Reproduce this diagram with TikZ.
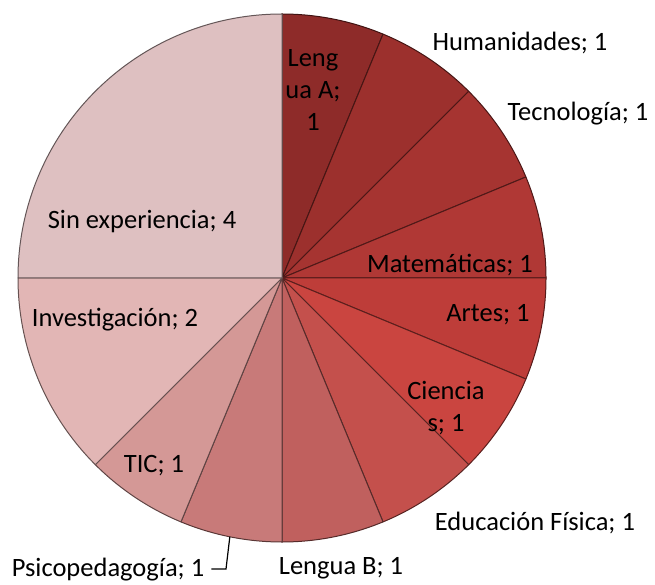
\documentclass[tikz,border=0pt]{standalone}
\usepackage{fontspec}
\setmainfont{Carlito}
\usepackage{xcolor}
\usepackage{tikz}
\usetikzlibrary{calc, positioning}

\definecolor{cLenguaA}{HTML}{8E2B29}
\definecolor{cHuman}{HTML}{9C302D}
\definecolor{cTecno}{HTML}{A63431}
\definecolor{cMate}{HTML}{B03835}
\definecolor{cArtes}{HTML}{BE3D39}
\definecolor{cCiencias}{HTML}{CA4540}
\definecolor{cEduFis}{HTML}{C4504C}
\definecolor{cLenguaB}{HTML}{C0605E}
\definecolor{cPsico}{HTML}{C87A79}
\definecolor{cTIC}{HTML}{D49896}
\definecolor{cInvest}{HTML}{E2B6B5}
\definecolor{cSinExp}{HTML}{DEC0C1}

\begin{document}
\begin{tikzpicture}[x=1pt, y=1pt]
	% 定义样式
	\tikzset{
	sector/.style = {fill=#1, draw=#1!45!black, line width=1pt, line join=round},
	lbl/.style = {font=\fontsize{26.5}{32}\selectfont, inner sep=0pt, align=center}
	}
	\useasboundingbox (0,0) rectangle (655,584);

	% 绘制扇形
	\coordinate (o) at (282,306);
	\foreach \a/\b/\c in {90/67.5/cLenguaA, 67.5/45/cHuman, 45/22.5/cTecno, 22.5/0/cMate,
		0/-22.5/cArtes, -22.5/-45/cCiencias, -45/-67.5/cEduFis, -67.5/-90/cLenguaB,
		-90/-112.5/cPsico, -112.5/-135/cTIC, -135/-180/cInvest, 180/90/cSinExp}
	{
		\filldraw[sector=\c] (o) -- ++(\a:264) arc[start angle=\a, end angle=\b, radius=264] -- cycle;
	}

	% 标签
	\node[lbl] (lenguaA) at (313,494) {Leng\\ua A;\\1};
	\node[lbl] (human) at (520,541) {Humanidades; 1};
	\node[lbl] (tecno) at (578,470) {Tecnología; 1};
	\node[lbl] (mate) at (450,319) {Matemáticas; 1};
	\node[lbl] (artes) at (488,269) {Artes; 1};
	\node[lbl] (ciencias) at (446,176) {Ciencia\\s; 1};
	\node[lbl] (edufis) at (535,61) {Educación Física; 1};
	\node[lbl] (lenguaB) at (341,16) {Lengua B; 1};
	\node[lbl] (psico) at (108,14) {Psicopedagogía; 1};
	\node[lbl] (tic) at (154,118) {TIC; 1};
	\node[lbl] (invest) at (115,264) {Investigación; 2};
	\node[lbl] (sinexp) at (142,362) {Sin experiencia; 4};

	% 引线
	\coordinate (psiarc) at ($(o)+(-101.4:264)$);
	\coordinate (psibend) at (226,15);
	\draw[line width=1.2pt] (psiarc) -- (psibend) -- ([xshift=7pt]psibend -| psico.east);

\end{tikzpicture}
\end{document}
